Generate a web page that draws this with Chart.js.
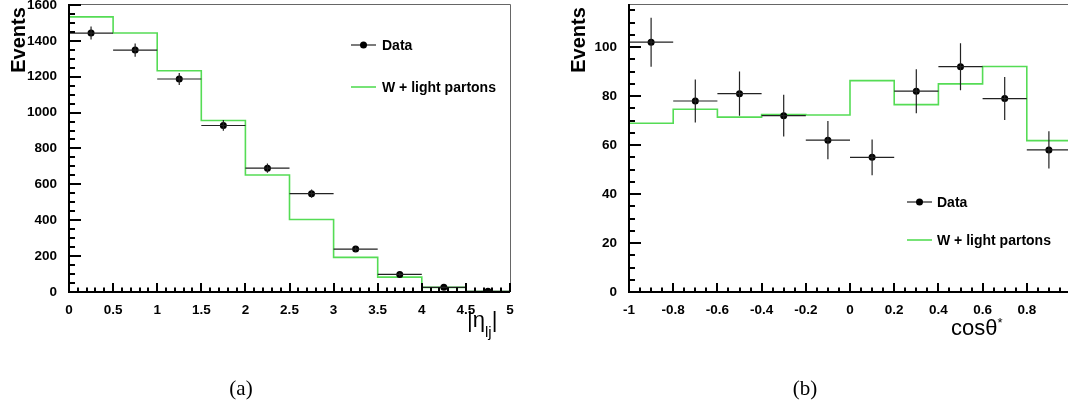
<!DOCTYPE html>
<html>
<head>
<meta charset="utf-8">
<script src="https://cdn.jsdelivr.net/npm/chart.js@4.4.1/dist/chart.umd.min.js"></script>
<style>
  html, body { margin: 0; padding: 0; background: #fff; }
  body { width: 1068px; height: 405px; overflow: hidden; position: relative; }
  canvas { position: absolute; top: 0; }
  #chartA { left: 0; }
  #chartB { left: 534px; }
  .ttl { position: absolute; font-family: "Liberation Sans", Arial, sans-serif; font-size: 22px; color: #000; line-height: 1; white-space: nowrap; }
  .ttl sub { font-size: 15px; vertical-align: -10px; }
  .ttl sup { font-size: 13px; vertical-align: 8px; }
  .cap { position: absolute; font-family: "Liberation Serif", "Times New Roman", serif; font-size: 21px; color: #000; width: 80px; text-align: center; line-height: 1; }
</style>
</head>
<body>
<canvas id="chartA" width="534" height="405"></canvas>
<canvas id="chartB" width="545" height="405"></canvas>
<div class="ttl" style="left:467px;top:309px">|η<sub>lj</sub>|</div>
<div class="ttl" style="left:951px;top:316px">cosθ<sup>*</sup></div>
<div class="cap" style="left:201px;top:378px">(a)</div>
<div class="cap" style="left:765px;top:378px">(b)</div>
<script>
// panneau (a) : |eta_lj|
const etaCenters = [0.25, 0.75, 1.25, 1.75, 2.25, 2.75, 3.25, 3.75, 4.25, 4.75];
const etaData = [1443, 1348, 1187, 928, 690, 548, 239, 98, 26, 4];
const etaErr = [36, 37, 34, 30, 26, 23, 15, 10, 5, 2];
const etaMC = [1533, 1443, 1233, 956, 652, 404, 193, 83, 26, 3];
const etaHalf = 0.25;
const etaXTicks = [0, 0.5, 1, 1.5, 2, 2.5, 3, 3.5, 4, 4.5, 5];
const etaYTicks = [0, 200, 400, 600, 800, 1000, 1200, 1400, 1600];

// panneau (b) : cos theta*
const cosCenters = [-0.9, -0.7, -0.5, -0.3, -0.1, 0.1, 0.3, 0.5, 0.7, 0.9];
const cosData = [102, 78, 81, 72, 62, 55, 82, 92, 79, 58];
const cosErr = [10, 8.8, 9, 8.5, 7.8, 7.3, 9, 9.6, 8.8, 7.6];
const cosMC = [68.9, 74.6, 71.4, 72.5, 72.3, 86.3, 76.5, 85, 92.1, 61.8];
const cosHalf = 0.1;
const cosXTicks = [-1, -0.8, -0.6, -0.4, -0.2, 0, 0.2, 0.4, 0.6, 0.8];
const cosYTicks = [0, 20, 40, 60, 80, 100];

const FONT = '"Liberation Sans", Arial, sans-serif';
const GREEN = '#55dc55';

// histogramme en escalier : bord gauche de chaque bin + bord droit du dernier
function stepPoints(centers, values, half) {
    const pts = centers.map((c, i) => ({ x: c - half, y: values[i] }));
    pts.push({ x: centers[centers.length - 1] + half, y: values[values.length - 1] });
    return pts;
}

// axes style ROOT, barres d'erreur, légende
const rootStyle = {
    id: 'rootStyle',
    afterDatasetsDraw(chart, args, o) {
        const { ctx } = chart;
        const x = chart.scales.x, y = chart.scales.y;
        const ds = chart.data.datasets[0];
        ctx.save();
        ctx.strokeStyle = '#222';
        ctx.lineWidth = 1.2;
        ds.data.forEach((p, i) => {
            const px = x.getPixelForValue(p.x), py = y.getPixelForValue(p.y);
            ctx.beginPath();
            ctx.moveTo(x.getPixelForValue(p.x - o.half), py);
            ctx.lineTo(x.getPixelForValue(p.x + o.half), py);
            ctx.moveTo(px, y.getPixelForValue(p.y - o.err[i]));
            ctx.lineTo(px, y.getPixelForValue(p.y + o.err[i]));
            ctx.stroke();
        });
        ctx.restore();
    },
    afterDraw(chart, args, o) {
        const { ctx, chartArea: a } = chart;
        const x = chart.scales.x, y = chart.scales.y;
        ctx.save();
        // cadre haut/droite
        ctx.strokeStyle = '#666';
        ctx.lineWidth = 1;
        ctx.beginPath();
        ctx.moveTo(a.left, a.top + 0.5);
        ctx.lineTo(a.right + 0.5, a.top + 0.5);
        ctx.lineTo(a.right + 0.5, a.bottom);
        ctx.stroke();
        // axes principaux
        ctx.strokeStyle = '#000';
        ctx.lineWidth = 2;
        ctx.beginPath();
        ctx.moveTo(a.left, a.top);
        ctx.lineTo(a.left, a.bottom);
        ctx.lineTo(a.right, a.bottom);
        ctx.stroke();
        // graduations vers l'intérieur
        ctx.beginPath();
        const nx = Math.round((x.max - x.min) / o.xMinor);
        for (let k = 0; k <= nx; k++) {
            const v = x.min + k * o.xMinor;
            const major = Math.abs(v / o.xMajor - Math.round(v / o.xMajor)) < 1e-6;
            const px = Math.round(x.getPixelForValue(v));
            ctx.moveTo(px, a.bottom);
            ctx.lineTo(px, a.bottom - (major ? 9 : 4.5));
        }
        const ny = Math.floor((y.max - y.min) / o.yMinor + 1e-6);
        for (let k = 0; k <= ny; k++) {
            const v = y.min + k * o.yMinor;
            const major = Math.abs(v / o.yMajor - Math.round(v / o.yMajor)) < 1e-6;
            const py = Math.round(y.getPixelForValue(v));
            ctx.moveTo(a.left, py);
            ctx.lineTo(a.left + (major ? 12 : 6), py);
        }
        ctx.stroke();

        // titre de l'axe y
        ctx.fillStyle = '#000';
        ctx.font = 'bold 20px ' + FONT;
        ctx.translate(o.evX, 40);
        ctx.rotate(-Math.PI / 2);
        ctx.textAlign = 'center';
        ctx.textBaseline = 'alphabetic';
        ctx.fillText('Events', 0, 0);
        ctx.setTransform(1, 0, 0, 1, 0, 0);

        // légende
        const L = o.legend;
        ctx.font = 'bold 14px ' + FONT;
        ctx.textAlign = 'left';
        ctx.textBaseline = 'middle';
        ctx.strokeStyle = '#222';
        ctx.lineWidth = 1.2;
        ctx.beginPath();
        ctx.moveTo(L.x1, L.y1);
        ctx.lineTo(L.x2, L.y1);
        ctx.stroke();
        ctx.beginPath();
        ctx.arc((L.x1 + L.x2) / 2, L.y1, 3.5, 0, Math.PI * 2);
        ctx.fill();
        ctx.fillText('Data', L.tx, L.y1 + 1);
        ctx.strokeStyle = GREEN;
        ctx.lineWidth = 1.6;
        ctx.beginPath();
        ctx.moveTo(L.x1, L.y2);
        ctx.lineTo(L.x2, L.y2);
        ctx.stroke();
        ctx.fillText('W + light partons', L.tx, L.y2 + 1);
        ctx.restore();
    }
};

function makeChart(id, cfg) {
    const tickFont = { family: FONT, size: 13.5, weight: 'bold' };
    return new Chart(document.getElementById(id), {
        type: 'scatter',
        data: {
            datasets: [
                {
                    label: 'Data',
                    data: cfg.centers.map((c, i) => ({ x: c, y: cfg.values[i] })),
                    pointRadius: 3.5,
                    pointBackgroundColor: '#000',
                    pointBorderWidth: 0,
                    showLine: false,
                },
                {
                    label: 'W + light partons',
                    data: stepPoints(cfg.centers, cfg.mc, cfg.half),
                    showLine: true,
                    stepped: 'before',
                    borderColor: GREEN,
                    borderWidth: 1.6,
                    pointRadius: 0,
                    fill: false,
                },
            ],
        },
        options: {
            responsive: false,
            animation: false,
            devicePixelRatio: 1,
            layout: { padding: { top: 3, right: cfg.padRight, left: 0, bottom: 0 } },
            plugins: {
                legend: { display: false },
                tooltip: { enabled: false },
                rootStyle: {
                    half: cfg.half, err: cfg.err,
                    xMajor: cfg.xMajor, xMinor: cfg.xMinor,
                    yMajor: cfg.yMajor, yMinor: cfg.yMinor,
                    evX: cfg.evX, legend: cfg.legend,
                },
            },
            scales: {
                x: {
                    type: 'linear',
                    min: cfg.xMin, max: cfg.xMax,
                    grid: { display: false },
                    border: { display: false },
                    ticks: {
                        font: tickFont, color: '#000', padding: 2,
                        maxRotation: 0, autoSkip: false,
                        callback: (v) => String(+v.toFixed(2)),
                    },
                    afterBuildTicks: (s) => { s.ticks = cfg.xTicks.map((v) => ({ value: v })); },
                    afterFit: (s) => { s.height = 113; s.paddingLeft = 0; s.paddingRight = 0; },
                },
                y: {
                    type: 'linear',
                    min: 0, max: cfg.yMax,
                    grid: { display: false },
                    border: { display: false },
                    ticks: {
                        font: tickFont, color: '#000', padding: 4,
                        callback: (v) => String(v),
                    },
                    afterBuildTicks: (s) => { s.ticks = cfg.yTicks.map((v) => ({ value: v })); },
                    afterFit: (s) => { s.width = cfg.yWidth; s.paddingTop = 0; s.paddingBottom = 0; },
                },
            },
        },
        plugins: [rootStyle],
    });
}

makeChart('chartA', {
    centers: etaCenters, values: etaData, err: etaErr, mc: etaMC, half: etaHalf,
    xTicks: etaXTicks, yTicks: etaYTicks,
    xMin: 0, xMax: 5, yMax: 1605,
    xMajor: 0.5, xMinor: 0.1, yMajor: 200, yMinor: 50,
    yWidth: 69, padRight: 24, evX: 25,
    legend: { x1: 351, x2: 376, y1: 45, y2: 87, tx: 382 },
});

makeChart('chartB', {
    centers: cosCenters, values: cosData, err: cosErr, mc: cosMC, half: cosHalf,
    xTicks: cosXTicks, yTicks: cosYTicks,
    xMin: -1, xMax: 1, yMax: 117.6,
    xMajor: 0.2, xMinor: 0.05, yMajor: 20, yMinor: 5,
    yWidth: 95, padRight: 8, evX: 51,
    legend: { x1: 373, x2: 398, y1: 202, y2: 240, tx: 403 },
});
</script>
</body>
</html>
